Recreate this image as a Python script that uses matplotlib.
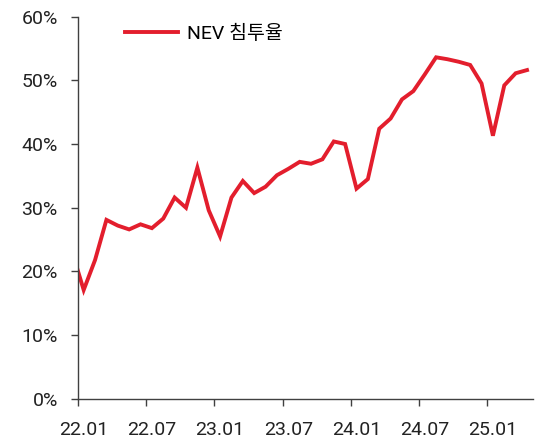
import numpy as np
import matplotlib.pyplot as plt
from matplotlib.ticker import FixedLocator, FixedFormatter

plt.rcParams['font.family'] = ['Roboto', 'Noto Sans CJK KR', 'DejaVu Sans']

# monthly NEV penetration (%), 21.12 (clipped at the axis) then 22.01 .. 25.04
months = ['21.12'] + ['%02d.%02d' % (y, m) for y in (22, 23, 24) for m in range(1, 13)] \
         + ['25.01', '25.02', '25.03', '25.04']
nev_share = [23.0,
             17.1, 21.8, 28.1, 27.2, 26.6, 27.4, 26.8, 28.3, 31.6, 30.0, 36.3, 29.6,
             25.5, 31.6, 34.2, 32.3, 33.3, 35.1, 36.1, 37.2, 36.9, 37.6, 40.4, 40.0,
             33.0, 34.5, 42.4, 44.0, 47.0, 48.3, 50.9, 53.6, 53.3, 52.9, 52.4, 49.5,
             41.3, 49.2, 51.1, 51.6]
label_every = 6

x = np.arange(len(months)) - 1  # 22.01 sits at 0

fig = plt.figure(figsize=(5.35, 4.44), dpi=100)
ax = fig.add_axes([0.1458, 0.1014, 0.8499, 0.8614])

ax.plot(x, nev_share, color='#E31E2D', lw=2.8, label='NEV 침투율',
        solid_joinstyle='miter')

ax.set_xlim(-0.5, len(months) - 1.5)
ax.set_ylim(0, 60)

for s in ['top', 'right']:
    ax.spines[s].set_visible(False)
for s in ['left', 'bottom']:
    ax.spines[s].set_color('#404040')
    ax.spines[s].set_linewidth(1.0)

# ticks between categories, labels on categories
lab_pos = [i for i in x if i >= 0 and i % label_every == 0]
ax.xaxis.set_major_locator(FixedLocator([p - 0.5 for p in lab_pos]))
ax.xaxis.set_major_formatter(FixedFormatter([''] * len(lab_pos)))
ax.xaxis.set_minor_locator(FixedLocator(lab_pos))
ax.xaxis.set_minor_formatter(FixedFormatter([months[p + 1] for p in lab_pos]))
ax.tick_params(axis='x', which='major', length=5, width=1, color='#404040', direction='out')
ax.tick_params(axis='x', which='minor', length=0, pad=15.5, labelsize=14, labelcolor='#222222')

ax.set_yticks(np.arange(0, 61, 10))
ax.set_yticklabels(['%d%%' % v for v in range(0, 61, 10)])
ax.tick_params(axis='y', length=5, width=1, color='#404040', pad=9.5,
               labelsize=14, labelcolor='#222222')

ax.legend(loc='upper left', bbox_to_anchor=(0.065, 1.025), frameon=False,
          handlelength=2.7, handletextpad=0.46, fontsize=14)

fig.savefig('out.png', dpi=100)
